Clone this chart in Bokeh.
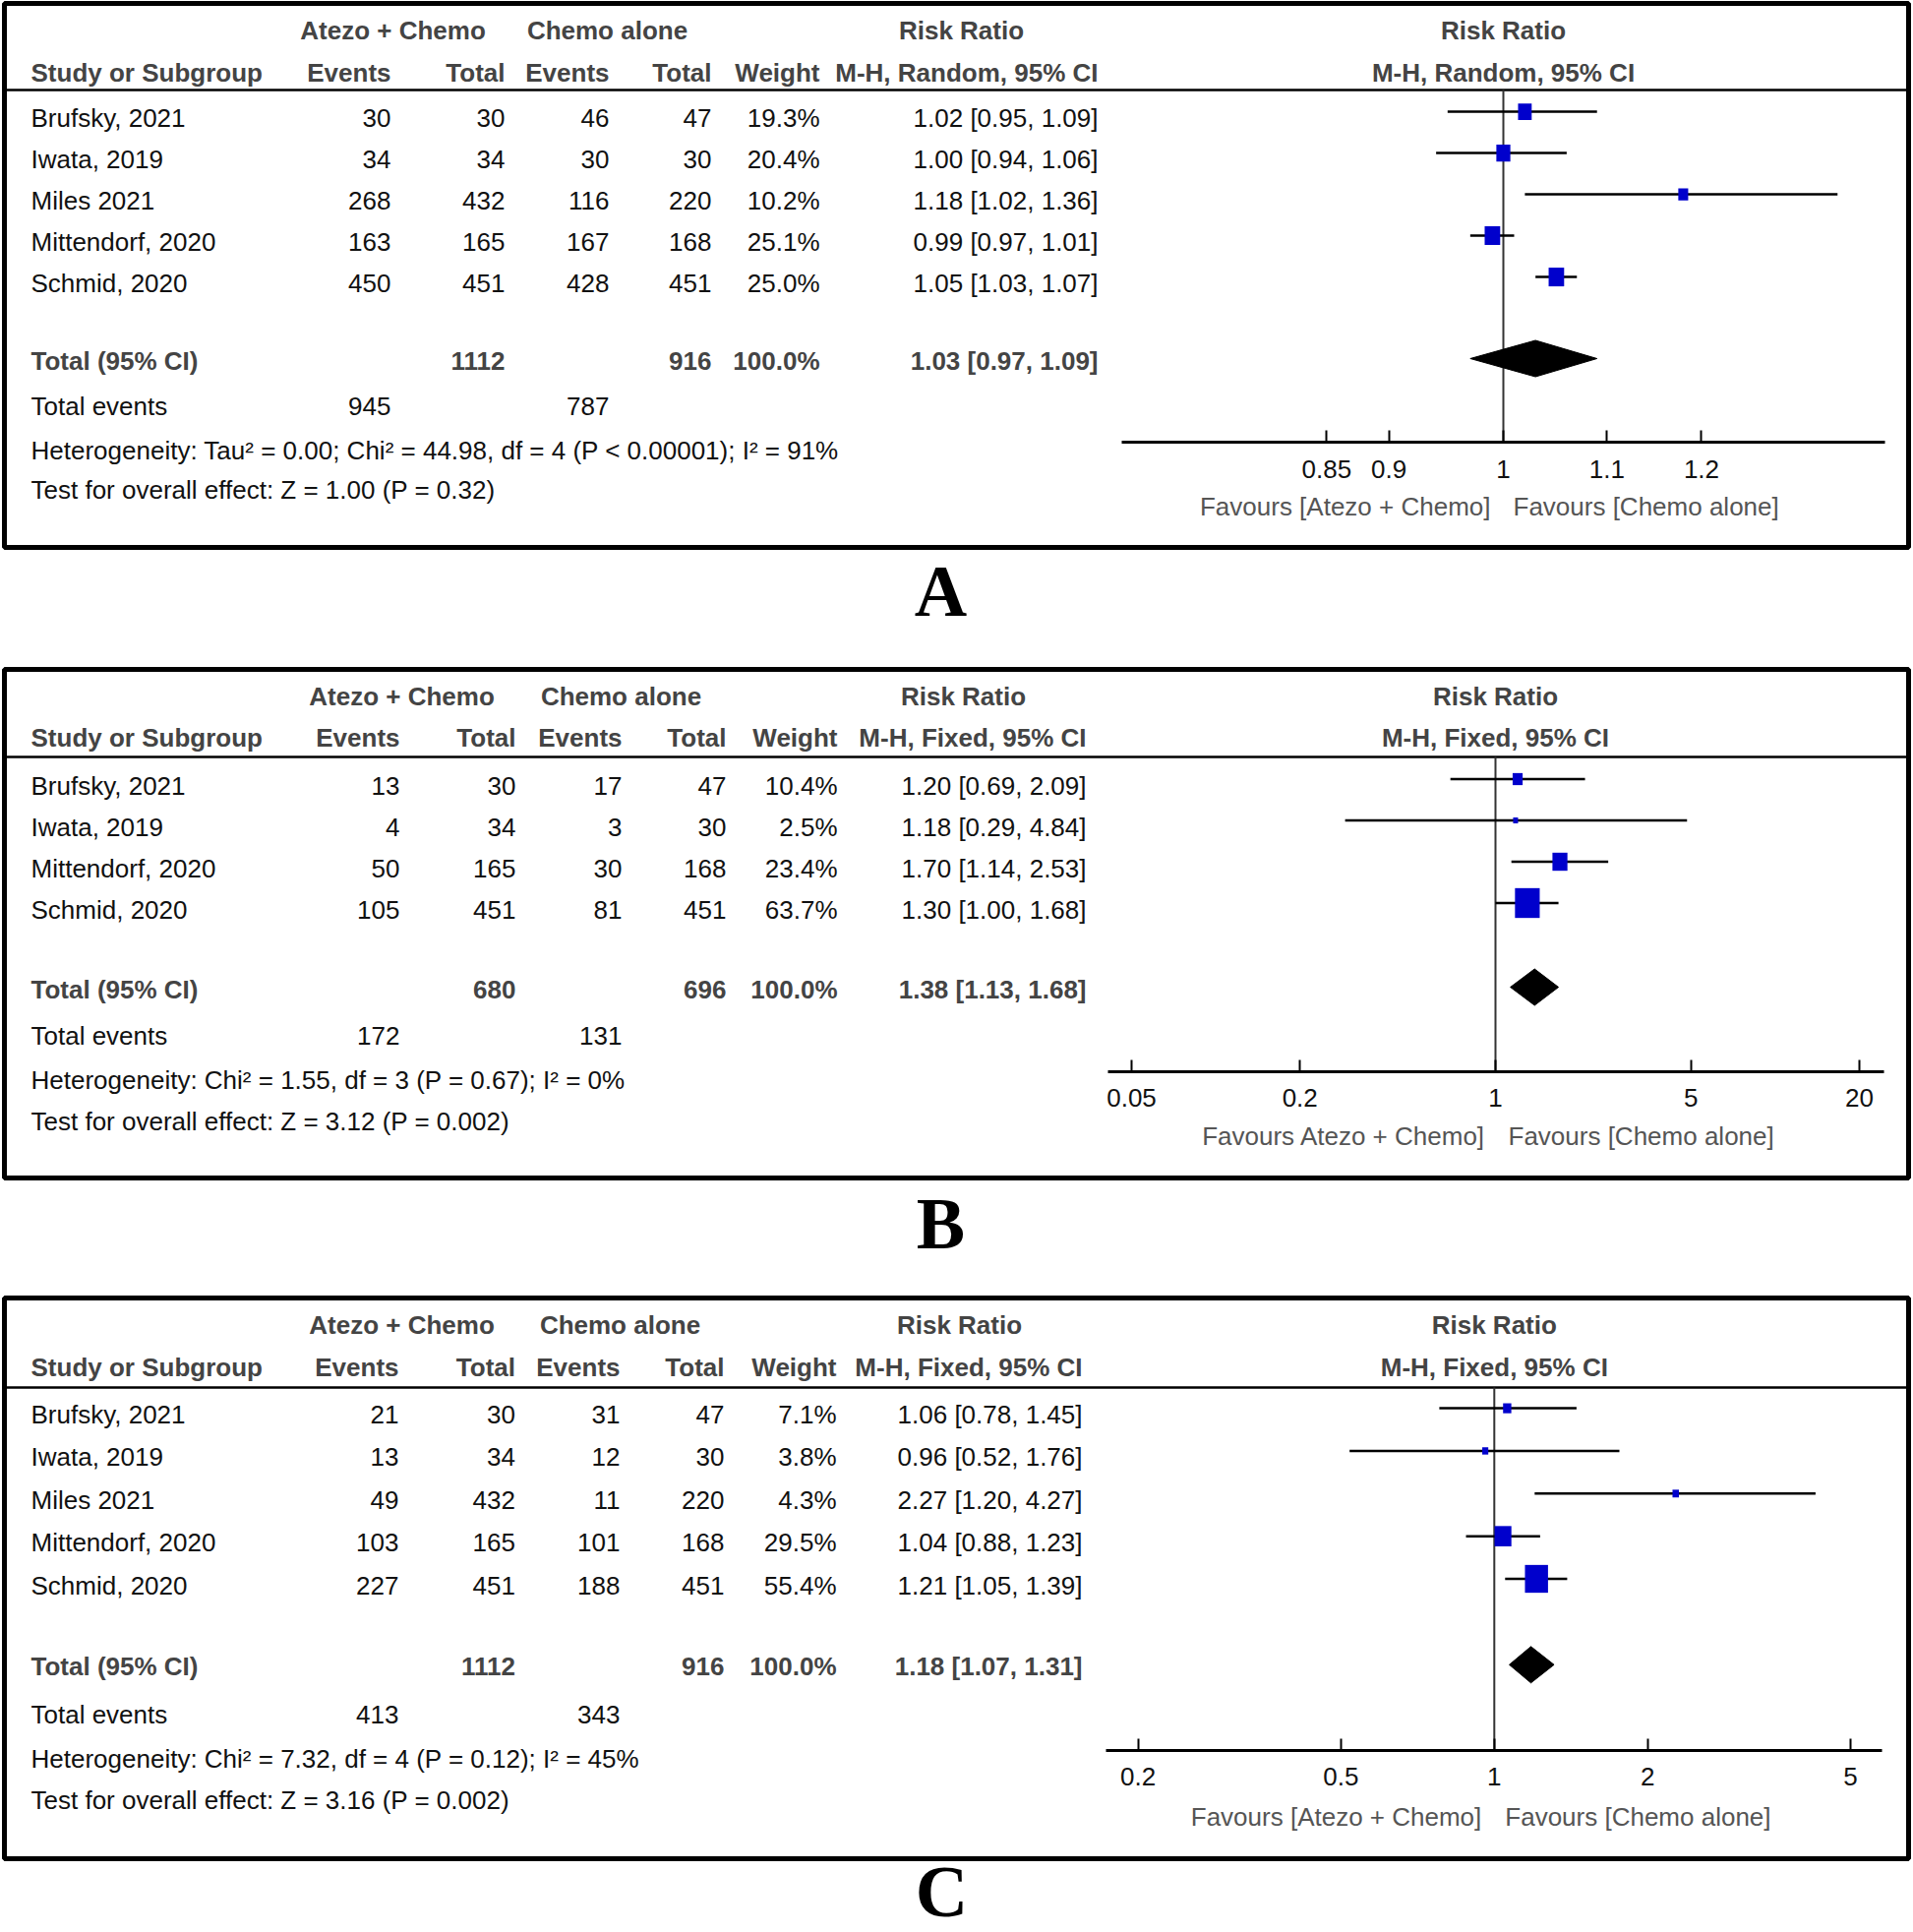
import math
from bokeh.plotting import figure
from bokeh.models import (Range1d, LogScale, LogAxis, FixedTicker,
                          CustomJSTickFormatter, ColumnDataSource)
from bokeh.core.properties import value
from bokeh.embed import file_html
from bokeh.resources import INLINE

# ---------------------------------------------------------------- data
# Panel A (M-H, Random)
studies_A = ["Brufsky, 2021", "Iwata, 2019", "Miles 2021", "Mittendorf, 2020", "Schmid, 2020"]
atezo_events_A = [30, 34, 268, 163, 450]
atezo_total_A = [30, 34, 432, 165, 451]
chemo_events_A = [46, 30, 116, 167, 428]
chemo_total_A = [47, 30, 220, 168, 451]
weight_A = [19.3, 20.4, 10.2, 25.1, 25.0]
rr_A = [1.02, 1.00, 1.18, 0.99, 1.05]
lo_A = [0.95, 0.94, 1.02, 0.97, 1.03]
hi_A = [1.09, 1.06, 1.36, 1.01, 1.07]
total_A = dict(atezo_total=1112, chemo_total=916, weight=100.0, rr=1.03, lo=0.97, hi=1.09,
               atezo_events=945, chemo_events=787)
het_A = "Heterogeneity: Tau² = 0.00; Chi² = 44.98, df = 4 (P < 0.00001); I² = 91%"
test_A = "Test for overall effect: Z = 1.00 (P = 0.32)"
method_A = "M-H, Random, 95% CI"
ticks_A = [0.85, 0.9, 1, 1.1, 1.2]
fav_A = ("Favours [Atezo + Chemo]", "Favours [Chemo alone]")

# Panel B (M-H, Fixed)
studies_B = ["Brufsky, 2021", "Iwata, 2019", "Mittendorf, 2020", "Schmid, 2020"]
atezo_events_B = [13, 4, 50, 105]
atezo_total_B = [30, 34, 165, 451]
chemo_events_B = [17, 3, 30, 81]
chemo_total_B = [47, 30, 168, 451]
weight_B = [10.4, 2.5, 23.4, 63.7]
rr_B = [1.20, 1.18, 1.70, 1.30]
lo_B = [0.69, 0.29, 1.14, 1.00]
hi_B = [2.09, 4.84, 2.53, 1.68]
total_B = dict(atezo_total=680, chemo_total=696, weight=100.0, rr=1.38, lo=1.13, hi=1.68,
               atezo_events=172, chemo_events=131)
het_B = "Heterogeneity: Chi² = 1.55, df = 3 (P = 0.67); I² = 0%"
test_B = "Test for overall effect: Z = 3.12 (P = 0.002)"
method_B = "M-H, Fixed, 95% CI"
ticks_B = [0.05, 0.2, 1, 5, 20]
fav_B = ("Favours Atezo + Chemo]", "Favours [Chemo alone]")

# Panel C (M-H, Fixed)
studies_C = ["Brufsky, 2021", "Iwata, 2019", "Miles 2021", "Mittendorf, 2020", "Schmid, 2020"]
atezo_events_C = [21, 13, 49, 103, 227]
atezo_total_C = [30, 34, 432, 165, 451]
chemo_events_C = [31, 12, 11, 101, 188]
chemo_total_C = [47, 30, 220, 168, 451]
weight_C = [7.1, 3.8, 4.3, 29.5, 55.4]
rr_C = [1.06, 0.96, 2.27, 1.04, 1.21]
lo_C = [0.78, 0.52, 1.20, 0.88, 1.05]
hi_C = [1.45, 1.76, 4.27, 1.23, 1.39]
total_C = dict(atezo_total=1112, chemo_total=916, weight=100.0, rr=1.18, lo=1.07, hi=1.31,
               atezo_events=413, chemo_events=343)
het_C = "Heterogeneity: Chi² = 7.32, df = 4 (P = 0.12); I² = 45%"
test_C = "Test for overall effect: Z = 3.16 (P = 0.002)"
method_C = "M-H, Fixed, 95% CI"
ticks_C = [0.2, 0.5, 1, 2, 5]
fav_C = ("Favours [Atezo + Chemo]", "Favours [Chemo alone]")

panel_labels = ["A", "B", "C"]
group_headers = ["Atezo + Chemo", "Chemo alone", "Risk Ratio"]
col_headers = ["Study or Subgroup", "Events", "Total", "Events", "Total", "Weight"]

# ---------------------------------------------------------------- layout
REF_W, REF_H = 1945, 1964
FIG_W, FIG_H = 1945, 1964

LAYOUT = {
    "A": dict(top=3, bottom=556, h1=30.4, h2=73, sep=91, row0=119.6, step=42.0,
              total=366, events=412.5, het=457, test=497, axis=449.3, fav=514,
              cols=(31, 397, 513, 619, 723, 833, 1116), groups=(399, 617, 977),
              v1=1528, k=1105, axis_px=(1140, 1915.5), fav_off=(-13, 10), letter=(956, 600)),
    "B": dict(top=680, bottom=1197, h1=707, h2=749, sep=769, row0=798, step=42.0,
              total=1005, events=1052.5, het=1097, test=1139, axis=1088.6, fav=1154.6,
              cols=(31, 406, 524, 632, 738, 851, 1104), groups=(408, 631, 979),
              v1=1520, k=123.5, axis_px=(1126, 1914.5), fav_off=(-10, 13), letter=(956, 1243)),
    "C": dict(top=1319, bottom=1889, h1=1346.6, h2=1389.8, sep=1410, row0=1437.6, step=43.35,
              total=1693.8, events=1742.5, het=1787, test=1829, axis=1778.5, fav=1846.3,
              cols=(31, 405, 523.5, 630, 736, 850, 1100), groups=(408, 630, 975),
              v1=1518.8, k=225.0, axis_px=(1124, 1913.4), fav_off=(-13, 11), letter=(957, 1922)),
}

PANELS = {
    "A": dict(studies=studies_A, ae=atezo_events_A, at=atezo_total_A, ce=chemo_events_A,
              ct=chemo_total_A, w=weight_A, rr=rr_A, lo=lo_A, hi=hi_A, tot=total_A,
              het=het_A, test=test_A, method=method_A, ticks=ticks_A, fav=fav_A),
    "B": dict(studies=studies_B, ae=atezo_events_B, at=atezo_total_B, ce=chemo_events_B,
              ct=chemo_total_B, w=weight_B, rr=rr_B, lo=lo_B, hi=hi_B, tot=total_B,
              het=het_B, test=test_B, method=method_B, ticks=ticks_B, fav=fav_B),
    "C": dict(studies=studies_C, ae=atezo_events_C, at=atezo_total_C, ce=chemo_events_C,
              ct=chemo_total_C, w=weight_C, rr=rr_C, lo=lo_C, hi=hi_C, tot=total_C,
              het=het_C, test=test_C, method=method_C, ticks=ticks_C, fav=fav_C),
}

FONT = value("Liberation Sans")
SERIF = value("Liberation Serif")
FS = "26px"
HEAD_COLOR = "#444444"
TEXT_COLOR = "#111111"
FAV_COLOR = "#555555"
BLUE = "#0000CC"


def log_range(lay):
    # log range spanning the whole frame, calibrated so that v=1 falls at v1
    return Range1d(math.exp(-lay["v1"] / lay["k"]), math.exp((REF_W - lay["v1"]) / lay["k"]))


extra_ranges = {f"f{k}": log_range(LAYOUT[k]) for k in panel_labels}
extra_scales = {f"f{k}": LogScale() for k in panel_labels}

p = figure(width=FIG_W, height=FIG_H,
           x_range=Range1d(0, REF_W), y_range=Range1d(REF_H, 0),
           x_axis_location=None, y_axis_location=None,
           toolbar_location=None, output_backend="svg", min_border=0,
           outline_line_color=None, background_fill_color="white",
           border_fill_color="white",
           extra_x_ranges=extra_ranges, extra_x_scales=extra_scales)
p.grid.visible = False


def txt(xs, ys, texts, align="left", bold=False, color=TEXT_COLOR, size=FS,
        font=FONT, rname="default", x_offset=0):
    src = ColumnDataSource(dict(x=list(xs), y=list(ys), t=list(texts)))
    p.text(x="x", y="y", text="t", source=src, text_align=align,
           text_baseline="middle", text_font=font, text_font_size=size,
           text_font_style="bold" if bold else "normal", text_color=color,
           x_offset=x_offset, x_range_name=rname)


for key in panel_labels:
    lay = LAYOUT[key]
    d = PANELS[key]
    rn = f"f{key}"
    c_name, c_ae, c_at, c_ce, c_ct, c_w, c_rr = lay["cols"]
    g1, g2, g3 = lay["groups"]
    n = len(d["studies"])
    ys = [lay["row0"] + i * lay["step"] for i in range(n)]

    # frame and header separator
    p.quad(left=[4], right=[1940], top=[lay["top"]], bottom=[lay["bottom"]],
           fill_color=None, line_color="black", line_width=5)
    p.segment(x0=[4], x1=[1940], y0=[lay["sep"]], y1=[lay["sep"]],
              line_color="black", line_width=2.5)

    # headers
    txt([g1, g2, g3], [lay["h1"]] * 3, group_headers, align="center", bold=True, color=HEAD_COLOR)
    txt([c_name], [lay["h2"]], [col_headers[0]], bold=True, color=HEAD_COLOR)
    txt([c_ae, c_at, c_ce, c_ct, c_w, c_rr], [lay["h2"]] * 6,
        col_headers[1:] + [d["method"]], align="right", bold=True, color=HEAD_COLOR)
    txt([1], [lay["h1"]], [group_headers[2]], align="center", bold=True, color=HEAD_COLOR, rname=rn)
    txt([1], [lay["h2"]], [d["method"]], align="center", bold=True, color=HEAD_COLOR, rname=rn)

    # study rows
    txt([c_name] * n, ys, d["studies"])
    txt([c_ae] * n, ys, [str(v) for v in d["ae"]], align="right")
    txt([c_at] * n, ys, [str(v) for v in d["at"]], align="right")
    txt([c_ce] * n, ys, [str(v) for v in d["ce"]], align="right")
    txt([c_ct] * n, ys, [str(v) for v in d["ct"]], align="right")
    txt([c_w] * n, ys, [f"{v:.1f}%" for v in d["w"]], align="right")
    txt([c_rr] * n, ys, [f"{r:.2f} [{a:.2f}, {b:.2f}]" for r, a, b in zip(d["rr"], d["lo"], d["hi"])],
        align="right")

    # total row
    t = d["tot"]
    txt([c_name], [lay["total"]], ["Total (95% CI)"], bold=True, color=HEAD_COLOR)
    txt([c_at, c_ct, c_w, c_rr], [lay["total"]] * 4,
        [str(t["atezo_total"]), str(t["chemo_total"]), f"{t['weight']:.1f}%",
         f"{t['rr']:.2f} [{t['lo']:.2f}, {t['hi']:.2f}]"], align="right", bold=True, color=HEAD_COLOR)
    txt([c_name], [lay["events"]], ["Total events"])
    txt([c_ae, c_ce], [lay["events"]] * 2, [str(t["atezo_events"]), str(t["chemo_events"])], align="right")
    txt([c_name], [lay["het"]], [d["het"]])
    txt([c_name], [lay["test"]], [d["test"]])

    # forest: line of no effect
    p.segment(x0=[1], x1=[1], y0=[lay["sep"]], y1=[lay["axis"]], line_color="#333333",
              line_width=2, x_range_name=rn)
    # CIs and boxes
    my = [y - 6.5 for y in ys]
    p.segment(x0=d["lo"], x1=d["hi"], y0=my, y1=my, line_color="black", line_width=2.5,
              x_range_name=rn)
    bw = [3.15 * math.sqrt(w) for w in d["w"]]
    bh = [max(5.0, 3.8 * math.sqrt(w)) for w in d["w"]]
    p.rect(x=d["rr"], y=my, width=bw, height=bh, width_units="screen", height_units="screen",
           fill_color=BLUE, line_color=None, x_range_name=rn)
    # pooled diamond
    dy = lay["total"] - 2
    p.patch(x=[t["lo"], t["rr"], t["hi"], t["rr"]], y=[dy, dy - 18.5, dy, dy + 18.5],
            fill_color="black", line_color="black", line_width=1, x_range_name=rn)

    # axis inside the panel
    b0 = math.exp((lay["axis_px"][0] - lay["v1"]) / lay["k"])
    b1 = math.exp((lay["axis_px"][1] - lay["v1"]) / lay["k"])
    ax = LogAxis(x_range_name=rn, fixed_location=lay["axis"], bounds=(b0, b1),
                 ticker=FixedTicker(ticks=d["ticks"], minor_ticks=[]),
                 formatter=CustomJSTickFormatter(code="return tick.toString();"),
                 axis_line_color="black", axis_line_width=3,
                 major_tick_in=12, major_tick_out=0, major_tick_line_width=2,
                 major_tick_line_color="black", minor_tick_line_color=None,
                 major_label_text_font="Liberation Sans", major_label_text_font_size=FS,
                 major_label_text_color="#111111", major_label_standoff=18)
    p.add_layout(ax, "below")

    # favours labels
    fo = lay["fav_off"]
    txt([1], [lay["fav"]], [d["fav"][0]], align="right", color=FAV_COLOR, rname=rn, x_offset=fo[0])
    txt([1], [lay["fav"]], [d["fav"][1]], align="left", color=FAV_COLOR, rname=rn, x_offset=fo[1])

    # panel letter
    lx, ly = lay["letter"]
    txt([lx], [ly], [key], align="center", bold=True, color="black", size="74px", font=SERIF)

open("out.html", "w").write(file_html(p, INLINE))
